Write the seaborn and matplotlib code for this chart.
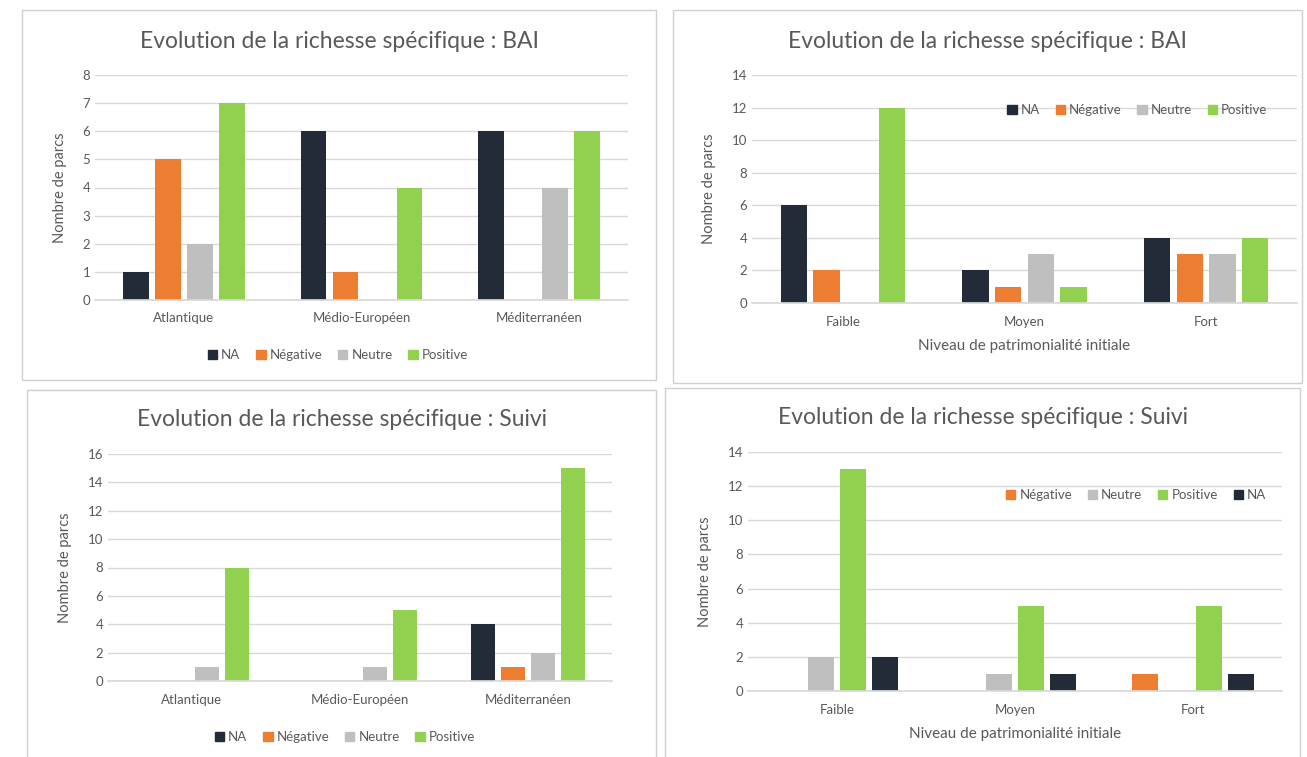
import matplotlib.pyplot as plt
import pandas as pd
import seaborn as sns
from matplotlib.patches import Rectangle

# Data
regions = ["Atlantique", "Médio-Européen", "Méditerranéen"]
levels = ["Faible", "Moyen", "Fort"]
classes = ["NA", "Négative", "Neutre", "Positive"]

bai_region = {
    "NA": [1, 6, 6],
    "Négative": [5, 1, 0],
    "Neutre": [2, 0, 4],
    "Positive": [7, 4, 6],
}
bai_level = {
    "NA": [6, 2, 4],
    "Négative": [2, 1, 3],
    "Neutre": [0, 3, 3],
    "Positive": [12, 1, 4],
}
suivi_region = {
    "NA": [0, 0, 4],
    "Négative": [0, 0, 1],
    "Neutre": [1, 1, 2],
    "Positive": [8, 5, 15],
}
suivi_level = {
    "Négative": [0, 0, 1],
    "Neutre": [2, 1, 0],
    "Positive": [13, 5, 5],
    "NA": [2, 1, 1],
}

colors = {"NA": "#232B38", "Négative": "#ED7D31", "Neutre": "#BFBFBF", "Positive": "#92D050"}
TEXT = "#595959"

W, H = 1307, 757


def to_long(values, cats):
    rows = []
    for cls, vals in values.items():
        for cat, v in zip(cats, vals):
            rows.append({"cat": cat, "cls": cls, "n": v})
    return pd.DataFrame(rows)


def fx(x):
    return x / W


def fy(y):
    return 1 - y / H


def draw_panel(fig, box, axbox, df, cats, hue_order, ymax, step, title, title_y,
               xlabel=None, legend_inside=None, legend_below=None):
    # light border around the panel (pixel coords)
    x0, y0, x1, y1 = box
    fig.patches.append(Rectangle((fx(x0), fy(y1)), fx(x1 - x0), (y1 - y0) / H,
                                 transform=fig.transFigure, fill=False,
                                 edgecolor="#D0D0D0", linewidth=1.0))
    l, t, r, b = axbox
    ax = fig.add_axes([fx(l), fy(b), fx(r - l), (b - t) / H])
    sns.barplot(data=df, x="cat", y="n", hue="cls", order=cats, hue_order=hue_order,
                palette=colors, saturation=1, width=0.72, gap=0.2, linewidth=0,
                ax=ax, legend=False)
    ax.set_ylim(0, ymax)
    ax.set_yticks(range(0, ymax + 1, step))
    ax.set_xlim(-0.5, len(cats) - 0.5)
    ax.grid(axis="y", color="#D9D9D9", linewidth=1)
    ax.grid(axis="x", visible=False)
    ax.set_axisbelow(True)
    for s in ["top", "right", "left"]:
        ax.spines[s].set_visible(False)
    ax.spines["bottom"].set_color("#D9D9D9")
    ax.tick_params(axis="both", length=0, colors=TEXT, labelsize=9.5)
    ax.tick_params(axis="x", pad=9)
    ax.set_ylabel("Nombre de parcs", color=TEXT, fontsize=10.5, labelpad=11)
    if xlabel:
        ax.set_xlabel(xlabel, color=TEXT, fontsize=11, labelpad=8)
    else:
        ax.set_xlabel("")
    fig.text(fx((x0 + x1) / 2), fy(title_y), title, ha="center", va="center",
             fontsize=16.5, color=TEXT)

    handles = [Rectangle((0, 0), 1, 1, color=colors[c]) for c in hue_order]
    kw = dict(frameon=False, handlelength=0.7, handleheight=0.7, handletextpad=0.3,
              columnspacing=1.2, fontsize=9.5, labelcolor=TEXT, ncol=len(hue_order),
              borderaxespad=0)
    if legend_inside is not None:
        ax.legend(handles, hue_order, loc="center right",
                  bbox_to_anchor=(legend_inside[0], legend_inside[1]), **kw)
    if legend_below is not None:
        fig.legend(handles, hue_order, loc="center",
                   bbox_to_anchor=(fx(legend_below[0]), fy(legend_below[1])), **kw)
    return ax


sns.set_theme(style="white")
plt.rcParams["font.family"] = ["Lato", "DejaVu Sans"]

fig = plt.figure(figsize=(W / 100, H / 100), dpi=100)
fig.patch.set_facecolor("white")

draw_panel(fig, (22, 10, 656, 380), (95, 75, 628, 300), to_long(bai_region, regions),
           regions, classes, 8, 1, "Evolution de la richesse spécifique : BAI", 42,
           legend_below=(338, 355))

draw_panel(fig, (673, 10, 1302, 383), (752, 75, 1297, 303), to_long(bai_level, levels),
           levels, classes, 14, 2, "Evolution de la richesse spécifique : BAI", 42,
           xlabel="Niveau de patrimonialité initiale", legend_inside=(0.955, 0.845))

draw_panel(fig, (27, 390, 656, 760), (108, 454, 612, 681), to_long(suivi_region, regions),
           regions, classes, 16, 2, "Evolution de la richesse spécifique : Suivi", 420,
           legend_below=(345, 737))

draw_panel(fig, (665, 388, 1300, 760), (748, 452, 1282, 691), to_long(suivi_level, levels),
           levels, ["Négative", "Neutre", "Positive", "NA"], 14, 2,
           "Evolution de la richesse spécifique : Suivi", 418,
           xlabel="Niveau de patrimonialité initiale", legend_inside=(0.98, 0.82))

fig.savefig("out.png", dpi=100, facecolor="white")
